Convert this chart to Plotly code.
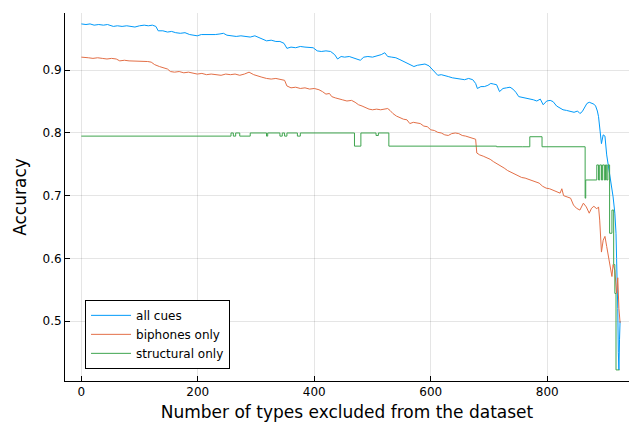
import plotly.graph_objects as go

# ---- data ----
all_x = [0, 8, 15, 22, 30, 38, 45, 50, 55, 62, 70, 78, 85, 92, 100, 108, 115, 122, 128, 132,
         140, 148, 155, 162, 170, 178, 186, 192, 199, 206, 214, 222, 230, 238, 244, 250, 258,
         266, 274, 282, 290, 298, 305, 312, 318, 326, 334, 341, 348, 353, 360, 368, 376, 384,
         392, 398, 405, 412, 420, 428, 435, 440, 446, 452, 460, 467, 474, 479, 485, 492, 500,
         508, 515, 521, 526, 533, 540, 547, 553, 559, 565, 571, 577, 583, 590, 597, 603, 606,
         612, 618, 624, 630, 637, 644, 651, 658, 665, 672, 677, 680, 686, 692, 698, 703, 708,
         713, 718, 724, 730, 736, 741, 746, 751, 757, 763, 770, 776, 782, 788, 793, 799, 805,
         810, 816, 822, 827, 833, 840, 846, 852, 856, 860, 864, 868, 872, 876, 880, 883, 886,
         888, 890, 893, 896, 899, 902, 905, 908, 911, 913, 916, 918, 919, 920, 921, 922, 923,
         924, 925]
all_y = [0.974, 0.973, 0.974, 0.972, 0.973, 0.972, 0.973, 0.972, 0.970, 0.971, 0.970, 0.971,
         0.970, 0.969, 0.971, 0.972, 0.971, 0.972, 0.970, 0.963, 0.963, 0.961, 0.962, 0.960,
         0.959, 0.960, 0.957, 0.956, 0.955, 0.957, 0.957, 0.956, 0.957, 0.958, 0.959, 0.956,
         0.955, 0.954, 0.955, 0.954, 0.953, 0.955, 0.952, 0.950, 0.947, 0.948, 0.946, 0.946,
         0.943, 0.935, 0.937, 0.936, 0.938, 0.937, 0.936, 0.936, 0.931, 0.930, 0.931, 0.930,
         0.925, 0.918, 0.922, 0.921, 0.922, 0.920, 0.917, 0.916, 0.921, 0.922, 0.921, 0.923,
         0.925, 0.928, 0.922, 0.921, 0.920, 0.917, 0.914, 0.911, 0.909, 0.906, 0.908, 0.909,
         0.910, 0.907, 0.901, 0.897, 0.892, 0.893, 0.891, 0.890, 0.888, 0.887, 0.886, 0.885,
         0.887, 0.885, 0.879, 0.871, 0.874, 0.874, 0.876, 0.879, 0.878, 0.877, 0.866, 0.871,
         0.872, 0.873, 0.870, 0.865, 0.858, 0.857, 0.856, 0.855, 0.853, 0.851, 0.854, 0.845,
         0.851, 0.852, 0.850, 0.843, 0.840, 0.837, 0.836, 0.834, 0.833, 0.835, 0.831, 0.834,
         0.840, 0.847, 0.849, 0.848, 0.846, 0.843, 0.835, 0.826, 0.808, 0.783, 0.797, 0.795,
         0.765, 0.748, 0.728, 0.709, 0.698, 0.672, 0.640, 0.600, 0.565, 0.520, 0.450, 0.422,
         0.470, 0.500]

bi_x = [0, 6, 12, 20, 28, 36, 44, 52, 60, 66, 74, 82, 90, 98, 106, 114, 120, 126, 134, 142,
        148, 153, 160, 168, 176, 184, 192, 199, 207, 215, 223, 231, 240, 248, 256, 264, 272,
        280, 288, 296, 304, 310, 318, 326, 334, 342, 349, 353, 360, 368, 376, 384, 392, 400,
        408, 414, 420, 426, 430, 436, 442, 448, 456, 464, 470, 476, 482, 488, 494, 500, 507,
        514, 520, 526, 530, 535, 541, 547, 553, 559, 564, 570, 576, 582, 588, 594, 600, 606,
        612, 618, 624, 630, 636, 642, 648, 654, 660, 666, 672, 677, 679, 684, 690, 696, 702,
        708, 714, 720, 726, 732, 738, 744, 750, 756, 762, 768, 774, 780, 786, 792, 798, 804,
        810, 816, 822, 825, 828, 834, 840, 845, 850, 856, 862, 867, 872, 876, 880, 885, 888,
        890, 893, 896, 899, 902, 905, 908, 911, 913, 916, 919, 921, 923, 925]
bi_y = [0.921, 0.920, 0.920, 0.919, 0.920, 0.919, 0.918, 0.919, 0.918, 0.915, 0.916, 0.915,
        0.915, 0.914, 0.915, 0.914, 0.913, 0.909, 0.906, 0.904, 0.902, 0.898, 0.897, 0.898,
        0.896, 0.897, 0.896, 0.894, 0.895, 0.893, 0.894, 0.893, 0.892, 0.894, 0.893, 0.894,
        0.892, 0.894, 0.897, 0.893, 0.890, 0.889, 0.887, 0.886, 0.887, 0.885, 0.884, 0.875,
        0.872, 0.873, 0.871, 0.872, 0.870, 0.871, 0.869, 0.866, 0.862, 0.863, 0.858, 0.856,
        0.854, 0.853, 0.851, 0.852, 0.849, 0.845, 0.843, 0.840, 0.838, 0.837, 0.838, 0.837,
        0.838, 0.839, 0.836, 0.831, 0.827, 0.824, 0.822, 0.821, 0.815, 0.817, 0.816, 0.815,
        0.811, 0.810, 0.805, 0.804, 0.801, 0.800, 0.797, 0.796, 0.799, 0.800, 0.799, 0.796,
        0.795, 0.793, 0.792, 0.790, 0.768, 0.765, 0.763, 0.761, 0.758, 0.754, 0.751, 0.747,
        0.744, 0.740, 0.737, 0.734, 0.731, 0.729, 0.728, 0.726, 0.724, 0.722, 0.720, 0.715,
        0.712, 0.711, 0.709, 0.706, 0.704, 0.711, 0.700, 0.698, 0.696, 0.685, 0.680, 0.677,
        0.688, 0.682, 0.672, 0.680, 0.683, 0.679, 0.682, 0.661, 0.610, 0.629, 0.635, 0.619,
        0.603, 0.592, 0.571, 0.590, 0.581, 0.544, 0.569, 0.520, 0.497]

st_x = [0, 257, 261, 265, 272, 290, 318, 320, 341, 345, 349, 353, 371, 376, 469, 480, 506,
        510, 528, 713, 757, 770, 791, 865, 866, 885, 888, 890, 893, 895, 898, 900, 902, 904,
        907, 911, 914, 916, 918, 924]
st_y = [0.795, 0.800, 0.795, 0.800, 0.795, 0.800, 0.795, 0.800, 0.795, 0.800, 0.795, 0.800,
        0.795, 0.800, 0.779, 0.800, 0.796, 0.800, 0.779, 0.778, 0.778, 0.794, 0.778, 0.696,
        0.725, 0.749, 0.725, 0.749, 0.725, 0.749, 0.725, 0.749, 0.725, 0.749, 0.640, 0.677,
        0.590, 0.544, 0.422, 0.422]

names = ["all cues", "biphones only", "structural only"]
colors = ["#009AFA", "#E36F47", "#3EA44E"]

x_ticks = [0, 200, 400, 600, 800]
y_ticks = [0.5, 0.6, 0.7, 0.8, 0.9]

fig = go.Figure()
fig.add_trace(go.Scatter(x=all_x, y=all_y, mode="lines", name=names[0],
                         line=dict(color=colors[0], width=1)))
fig.add_trace(go.Scatter(x=bi_x, y=bi_y, mode="lines", name=names[1],
                         line=dict(color=colors[1], width=1)))
fig.add_trace(go.Scatter(x=st_x, y=st_y, mode="lines", name=names[2],
                         line=dict(color=colors[2], width=1, shape="hv")))

axis_common = dict(showline=True, linecolor="black", linewidth=1, mirror=False,
                   ticks="inside", ticklen=5, tickcolor="black", tickwidth=1,
                   showgrid=True, gridcolor="rgba(0,0,0,0.1)", gridwidth=1,
                   zeroline=False, tickfont=dict(size=12, color="black"))

fig.update_layout(
    width=629, height=425,
    margin=dict(l=65, r=0, t=13, b=44),
    paper_bgcolor="white", plot_bgcolor="white",
    font=dict(family="DejaVu Sans", color="black"),
    xaxis=dict(range=[-28.0, 940.3], tickvals=x_ticks,
               title=dict(text="Number of types excluded from the dataset",
                          font=dict(size=17), standoff=7),
               **axis_common),
    yaxis=dict(range=[0.4043, 0.9914], tickvals=y_ticks, tickformat=".1f",
               title=dict(text="Accuracy", font=dict(size=17), standoff=11),
               **axis_common),
    legend=dict(x=0.0355, y=0.033, xanchor="left", yanchor="bottom",
                bordercolor="black", borderwidth=1, bgcolor="white",
                font=dict(size=12), tracegroupgap=0, itemwidth=40),
    showlegend=True,
)

fig.write_html("out.html")
